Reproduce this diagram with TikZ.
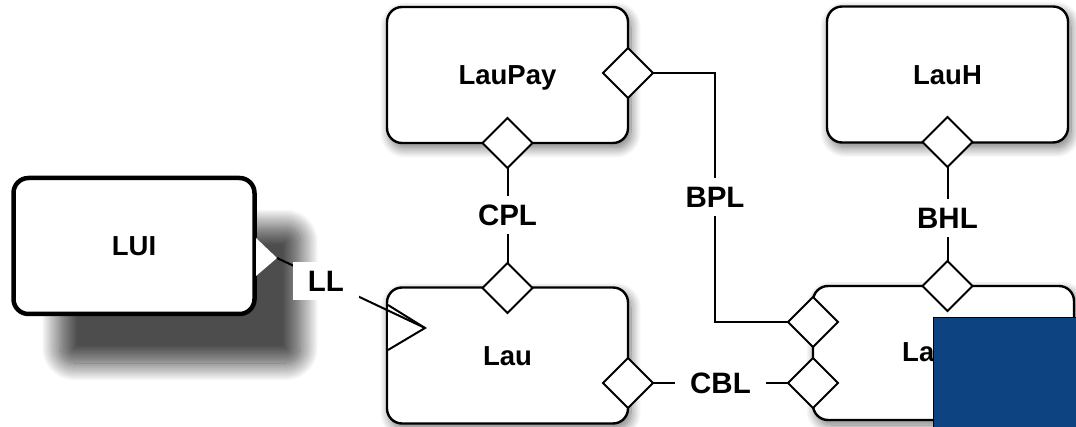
\documentclass[tikz,border=0pt]{standalone}
\usepackage{fontspec}
\setmainfont{Liberation Sans}
\usetikzlibrary{shapes.geometric,shadows,shadows.blur}
\definecolor{bluebox}{RGB}{14,67,130}
\begin{document}
\begin{tikzpicture}[x=1pt,y=-1pt,
  ent/.style={draw, line width=2.4pt, rounded corners=15pt, fill=white, inner sep=0pt, outer sep=0pt,
    minimum width=241pt, minimum height=136pt,
    font=\fontsize{27.5}{30}\selectfont\bfseries, text height=20pt, text depth=0pt,
    blur shadow={shadow xshift=3pt, shadow yshift=-5pt, shadow blur radius=10pt, shadow blur steps=12, shadow opacity=55}},
  dia/.style={diamond, draw, line width=2pt, fill=white, minimum width=50pt, minimum height=50pt,
    inner sep=0pt, outer sep=0pt},
  lbl/.style={fill=white, font=\fontsize{29.5}{32}\selectfont\bfseries, text height=21pt, text depth=0pt,
    inner xsep=15pt, inner ysep=8.5pt},
  conn/.style={line width=2pt},
]
\useasboundingbox (0,0) rectangle (1076,427);

% entity boxes
\node[ent, line width=4.5pt,
  blur shadow={shadow xshift=46pt, shadow yshift=-49pt, shadow blur radius=18pt, shadow blur steps=24,
    shadow opacity=45}]
  (lui) at (134,246) {LUI};
\node[ent] (laupay) at (507.5,75) {LauPay};
\node[ent] (lauh) at (947.5,74.5) {LauH};
\node[ent] (lau) at (507.5,355.5) {Lau};
\node[ent, minimum width=261pt, minimum height=134pt] (la) at (943.5,353) {};
\node[font=\fontsize{27.5}{30}\selectfont\bfseries, anchor=base west, inner sep=0pt] (latext) at (902,362) {La};

% triangles
\coordinate (luitip) at (277,258);
\fill[white] (256,238) -- (luitip) -- (256,276) -- cycle;
\coordinate (lautip) at (425,328);
\draw[conn, fill=white] (388,305) -- (lautip) -- (388,350);

% diamonds
\node[dia] (dpayr) at (628,73) {};
\node[dia] (dpayb) at (507.5,143) {};
\node[dia] (dhb) at (947.5,142) {};
\node[dia] (dlaut) at (507.5,288) {};
\node[dia] (dlaur) at (628,383) {};
\node[dia] (dlat) at (947.5,286) {};
\node[dia] (dlal1) at (813,322) {};
\node[dia] (dlal2) at (813,383) {};

% connectors
\draw[conn] (luitip) -- node[lbl, pos=0.33] (ll) {LL} (lautip);
\draw[conn] (dpayb.south) -- node[lbl] (cpl) {CPL} (dlaut.north);
\coordinate (bp1) at (715,73);
\coordinate (bp2) at (715,322);
\draw[conn] (dpayr.east) -- (bp1) -- node[lbl] (bpl) {BPL} (bp2) -- (dlal1.west);
\draw[conn] (dhb.south) -- node[lbl, pos=0.54] (bhl) {BHL} (dlat.north);
\draw[conn] (dlaur.east) -- node[lbl] (cbl) {CBL} (dlal2.west);

% blue overlay
\draw[line width=1.5pt, fill=bluebox] (933.5,317.5) rectangle (1090,440);
\end{tikzpicture}
\end{document}
